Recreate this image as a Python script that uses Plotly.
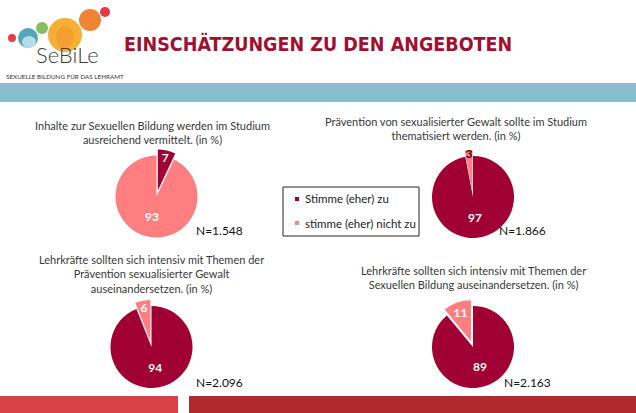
import plotly.graph_objects as go

W, H = 636, 413

# data
categories = ['Stimme (eher) zu', 'stimme (eher) nicht zu']
questions = [
    'Inhalte zur Sexuellen Bildung werden im Studium<br>ausreichend vermittelt. (in %)',
    'Prävention von sexualisierter Gewalt sollte im Studium<br>thematisiert werden. (in %)',
    'Lehrkräfte sollten sich intensiv mit Themen der<br>Prävention sexualisierter Gewalt<br>auseinandersetzen. (in %)',
    'Lehrkräfte sollten sich intensiv mit Themen der<br>Sexuellen Bildung auseinandersetzen. (in %)',
]
agree = [7, 97, 94, 89]
disagree = [93, 3, 6, 11]
sample_sizes = ['N=1.548', 'N=1.866', 'N=2.096', 'N=2.163']
exploded = [0, 1, 1, 1]  # index of the slice pulled out of each pie

colors = ['#A00034', '#FF7E80']
FONT = 'Lato, Open Sans, sans-serif'

# slide layout in pixels
pie_centers = [(156.5, 196.5), (473, 197), (151.5, 347), (473, 347)]
pie_radius = 41
pull = 0.15
title_pos = [(152.5, 132), (456, 128), (151, 274), (473, 277.5)]
n_pos = [(219, 231), (522, 231), (219, 382), (527, 382)]
label_colors = [['white', 'white'], ['white', '#3b0a16'], ['white', 'white'], ['white', 'white']]


def px(x):
    return x / W


def py(y):
    return 1 - y / H


def text(s, x, y, size, color, anchor='center', **font):
    return dict(text=s, x=px(x), y=py(y), xref='paper', yref='paper', xanchor=anchor,
                yanchor='middle', showarrow=False, align='center',
                font=dict(family=font.pop('family', FONT), size=size, color=color, **font))


fig = go.Figure()

half = pie_radius * (1 + pull)
for i in range(4):
    cx, cy = pie_centers[i]
    p = [0, 0]
    p[exploded[i]] = pull
    fig.add_trace(go.Pie(
        labels=categories,
        values=[agree[i], disagree[i]],
        sort=False,
        direction='clockwise',
        rotation=0,
        pull=p,
        marker=dict(colors=colors, line=dict(width=0)),
        textinfo='value',
        textposition='inside',
        insidetextorientation='horizontal',
        textfont=dict(family=FONT, size=12, color=label_colors[i], weight='bold'),
        hoverinfo='label+value',
        showlegend=False,
        domain=dict(x=[px(cx - half), px(cx + half)], y=[py(cy + half), py(cy - half)]),
    ))

shapes = []
annotations = []

# teal band and bottom bars
shapes.append(dict(type='rect', xref='paper', yref='paper', x0=0, x1=1, y0=py(102), y1=py(83),
                   fillcolor='#88BFCD', line_width=0, layer='below'))
shapes.append(dict(type='rect', xref='paper', yref='paper', x0=0, x1=px(178), y0=0, y1=py(396),
                   fillcolor='#D84246', line_width=0))
shapes.append(dict(type='rect', xref='paper', yref='paper', x0=px(189), x1=1, y0=0, y1=py(396),
                   fillcolor='#B1282D', line_width=0))

# logo circles (x, y, r, colour)
logo = [
    (12, 38, 4, '#E5303F'),
    (28, 38, 10, '#4E9FB4'),
    (42, 28, 6, '#7DBD57'),
    (65, 35, 17, '#F6AA2A'),
    (90, 20, 11, '#EF7D2A'),
    (105, 12, 5, '#E42E40'),
]
for x, y, r, c in logo:
    shapes.append(dict(type='circle', xref='paper', yref='paper',
                       x0=px(x - r), x1=px(x + r), y0=py(y + r), y1=py(y - r),
                       fillcolor=c, line_width=0, opacity=0.95))
# lighter lower part of the teal circle
shapes.append(dict(type='circle', xref='paper', yref='paper',
                   x0=px(22), x1=px(36), y0=py(48), y1=py(36),
                   fillcolor='#BFE3EE', line_width=0, opacity=0.9))
# darker core of the big circle
shapes.append(dict(type='circle', xref='paper', yref='paper',
                   x0=px(56), x1=px(74), y0=py(48), y1=py(26),
                   fillcolor='#F29530', line_width=0, opacity=0.6))

annotations.append(text('SeBiLe', 67, 54, 22, '#3c3c3c', weight=300))
annotations.append(text('SEXUELLE BILDUNG FÜR DAS LEHRAMT', 4, 76, 6.3, '#333333', anchor='left'))
annotations.append(text('EINSCHÄTZUNGEN ZU DEN ANGEBOTEN', 317.5, 44, 19.5, '#A0102F',
                        family='Liberation Sans Narrow, DejaVu Sans Condensed, sans-serif',
                        weight='bold'))

# question titles and sample sizes
for i in range(4):
    tx, ty = title_pos[i]
    annotations.append(text(questions[i], tx, ty, 11, '#383838'))
    nx, ny = n_pos[i]
    annotations.append(text(sample_sizes[i], nx, ny, 12, '#111111'))

# legend box
shapes.append(dict(type='rect', xref='paper', yref='paper', x0=px(283), x1=px(419), y0=py(236),
                   y1=py(187), line=dict(color='#222222', width=1), fillcolor='white'))
for k, yy in enumerate([199, 223]):
    shapes.append(dict(type='rect', xref='paper', yref='paper', x0=px(295), x1=px(299),
                       y0=py(yy + 2), y1=py(yy - 2), fillcolor=colors[k], line_width=0))
    annotations.append(text(categories[k], 303, yy, 11.5, '#222222', anchor='left'))

fig.update_layout(
    width=W, height=H,
    margin=dict(l=0, r=0, t=0, b=0),
    paper_bgcolor='white',
    plot_bgcolor='white',
    shapes=shapes,
    annotations=annotations,
    uniformtext=dict(minsize=12, mode='show'),
)

# drop the default page margin so the slide fills the window
fig.write_html('out.html', config={'displayModeBar': False},
               post_script="document.body.style.margin='0';")
